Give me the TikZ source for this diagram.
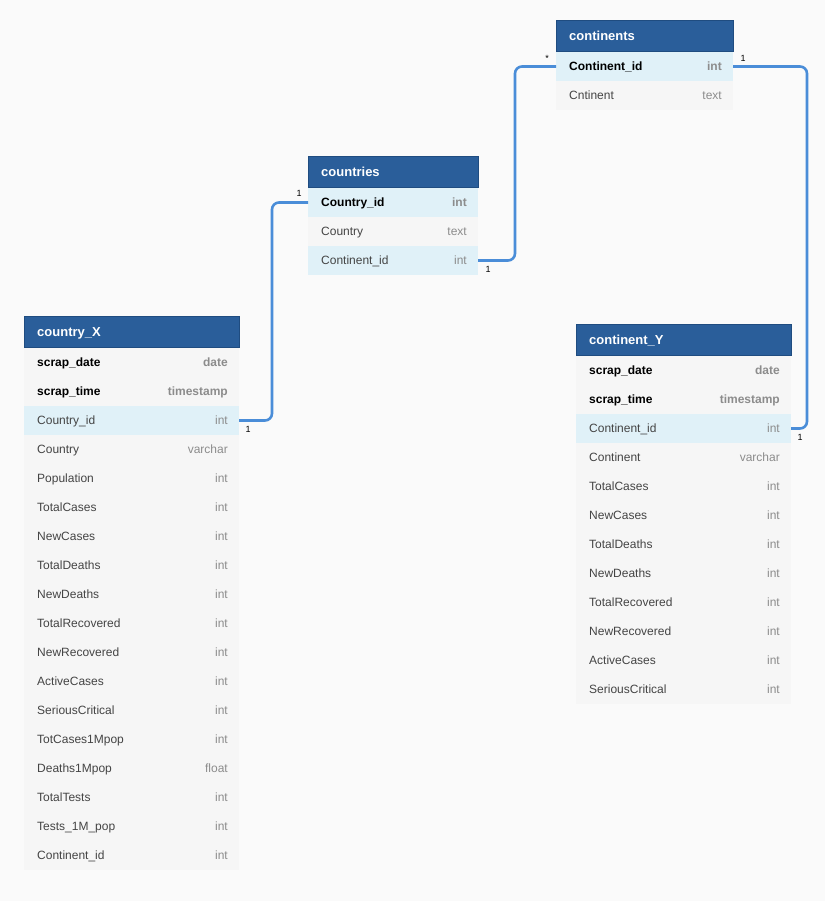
\documentclass[tikz,border=0pt]{standalone}
\usepackage{fontspec}
\setmainfont{Liberation Sans}
\definecolor{bg}{HTML}{FAFAFA}
\definecolor{hdrc}{HTML}{2A5E9A}
\definecolor{hdrline}{HTML}{1F4C80}
\definecolor{hlc}{HTML}{E0F1F8}
\definecolor{rowc}{HTML}{F6F6F6}
\definecolor{linkc}{HTML}{4A8DD8}
\definecolor{nmc}{HTML}{444444}
\definecolor{tyc}{HTML}{8C8C8C}
\newcommand\ertable[6]{%
  \node[hdrbox, minimum width=#4, anchor=north west] (#1) at (#2,#3) {};
  \node[hdrtext, anchor=base west] (#1-title) at ([xshift=13,yshift=-4.8]#1.west) {#5};
  \foreach \n/\t/\s [count=\i] in {#6} {
    \node[rowbox, row \s, minimum width=#4, anchor=north west] (#1-\i) at (#2, #3+32+29*\i-29) {};
    \node[cell, name \s, anchor=base west] (#1-\i-n) at ([xshift=13,yshift=-4.3]#1-\i.west) {\n};
    \node[cell, type \s, anchor=base east] (#1-\i-t) at ([xshift=-11,yshift=-4.3]#1-\i.east) {\t};
  }%
}
\begin{document}
\begin{tikzpicture}[x=1pt,y=-1pt,
  hdrbox/.style={fill=hdrc, draw=hdrline, line width=0.6pt, minimum height=31, inner sep=0, outer sep=0},
  hdrtext/.style={text=white, font=\fontsize{13}{15}\selectfont\bfseries, inner sep=0},
  rowbox/.style={minimum height=29, inner sep=0, outer sep=0},
  row n/.style={fill=rowc}, row k/.style={fill=rowc},
  row h/.style={fill=hlc}, row hk/.style={fill=hlc},
  cell/.style={inner sep=0, font=\fontsize{12}{14}\selectfont},
  name n/.style={text=nmc}, name h/.style={text=nmc},
  name k/.style={text=black, font=\fontsize{12}{14}\selectfont\bfseries},
  name hk/.style={text=black, font=\fontsize{12}{14}\selectfont\bfseries},
  type n/.style={text=tyc}, type h/.style={text=tyc},
  type k/.style={text=tyc, font=\fontsize{12}{14}\selectfont\bfseries},
  type hk/.style={text=tyc, font=\fontsize{12}{14}\selectfont\bfseries},
  link/.style={draw=linkc, line width=2.6pt, rounded corners=7pt},
  card/.style={inner sep=0, font=\fontsize{9}{10}\selectfont, text=black}]
\fill[bg] (0,0) rectangle (825,901);
\useasboundingbox (0,0) rectangle (825,901);

\ertable{ct}{556}{20}{177}{continents}{Continent\_id/int/hk, Cntinent/text/n}
\ertable{cs}{308}{156}{170}{countries}{Country\_id/int/hk, Country/text/n, Continent\_id/int/h}
\ertable{cx}{24}{316}{215}{country\_X}{scrap\_date/date/k, scrap\_time/timestamp/k,
  Country\_id/int/h, Country/varchar/n, Population/int/n, TotalCases/int/n, NewCases/int/n,
  TotalDeaths/int/n, NewDeaths/int/n, TotalRecovered/int/n, NewRecovered/int/n,
  ActiveCases/int/n, SeriousCritical/int/n, TotCases1Mpop/int/n, Deaths1Mpop/float/n,
  TotalTests/int/n, Tests\_1M\_pop/int/n, Continent\_id/int/n}
\ertable{cy}{576}{324}{215}{continent\_Y}{scrap\_date/date/k, scrap\_time/timestamp/k,
  Continent\_id/int/h, Continent/varchar/n, TotalCases/int/n, NewCases/int/n,
  TotalDeaths/int/n, NewDeaths/int/n, TotalRecovered/int/n, NewRecovered/int/n,
  ActiveCases/int/n, SeriousCritical/int/n}

\draw[link] (cx-3.east) -- ++(33,0) |- (cs-1.west);
\draw[link] (cs-3.east) -- ++(37,0) |- (ct-1.west);
\draw[link] (ct-1.east) -- ++(74,0) |- (cy-3.east);

\node[card] (l1) at ([xshift=9,yshift=-8.5]cx-3.east) {1};
\node[card] (l2) at ([xshift=-9,yshift=9.5]cs-1.west) {1};
\node[card] (l3) at ([xshift=10,yshift=-8.5]cs-3.east) {1};
\node[card] (l4) at ([xshift=-9,yshift=8.5]ct-1.west) {*};
\node[card] (l5) at ([xshift=10,yshift=8.5]ct-1.east) {1};
\node[card] (l6) at ([xshift=9,yshift=-9]cy-3.east) {1};
\end{tikzpicture}
\end{document}
